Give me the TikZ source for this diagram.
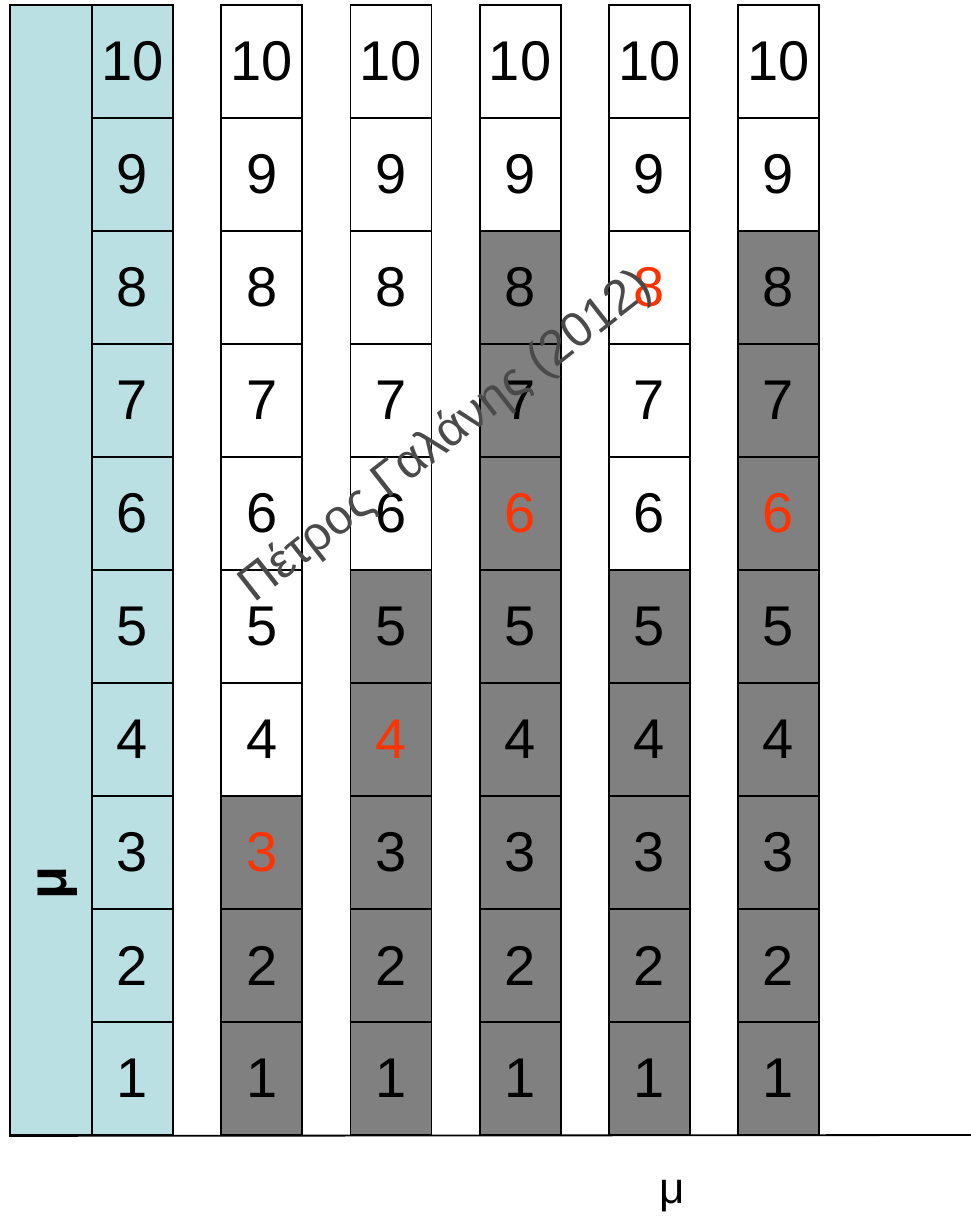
\documentclass[tikz,border=0pt]{standalone}
\usepackage{fontspec}
\setmainfont{Liberation Sans}
\usepackage{tikz}
\usetikzlibrary{positioning}

\definecolor{paleblue}{HTML}{BBE0E3}
\definecolor{cellgray}{HTML}{808080}
\definecolor{hot}{HTML}{FF3300}
\definecolor{stamp}{HTML}{4A4A4A}

\begin{document}
\begin{tikzpicture}[
    x=1pt, y=-1pt,
    cell/.style ={draw=black, line width=1.8pt, minimum width=81pt, minimum height=113pt,
                  inner sep=0pt, font=\fontsize{56}{60}\selectfont},
    bar/.style  ={draw=black, line width=1.8pt, fill=paleblue, minimum width=82pt,
                  minimum height=1130pt, inner sep=0pt},
    ax/.style   ={draw=black, line width=1.8pt}
  ]
  \useasboundingbox (0,0) rectangle (971,1223);

  %% ---- left bar and its label --------------------------------------
  \node[bar] (mubar) at (51,570) {};
  \node[font=\fontsize{54}{58}\selectfont\bfseries, rotate=90] (mulabel) at (58,883) {μ};

  %% ---- first column (all light blue) -------------------------------
  \foreach \r in {1,...,10}
    \node[cell, fill=paleblue] (c1-\r) at (132.5,{1135-113*(\r-0.5)}) {\r};

  %% ---- columns: col / filled up to / red number --------------------
  \foreach \c/\g/\h in {2/3/3, 3/5/4, 4/8/6, 5/5/8, 6/8/6}
    \foreach \r in {1,...,10} {
      \pgfmathsetmacro\cx{132.5+129.2*(\c-1)}
      \ifnum\r>\g \def\cellfill{white}\else \def\cellfill{cellgray}\fi
      \ifnum\r=\h \def\numcol{hot}\else \def\numcol{black}\fi
      \node[cell, fill=\cellfill, text=\numcol] (c\c-\r) at (\cx,{1135-113*(\r-0.5)}) {\r};
    }

  %% ---- axis --------------------------------------------------------
  \coordinate (axisend) at (971,1135);
  \draw[ax] (mubar.south west) -- (axisend);
  \node[font=\fontsize{44}{48}\selectfont] (xlabel) at (672,1196) {μ};

  %% ---- watermark ---------------------------------------------------
  \node[font=\fontsize{49}{52}\selectfont, text=stamp, rotate=38] (stamp) at (446,437)
    {Πέτρος Γαλάνης (2012)};

\end{tikzpicture}
\end{document}
